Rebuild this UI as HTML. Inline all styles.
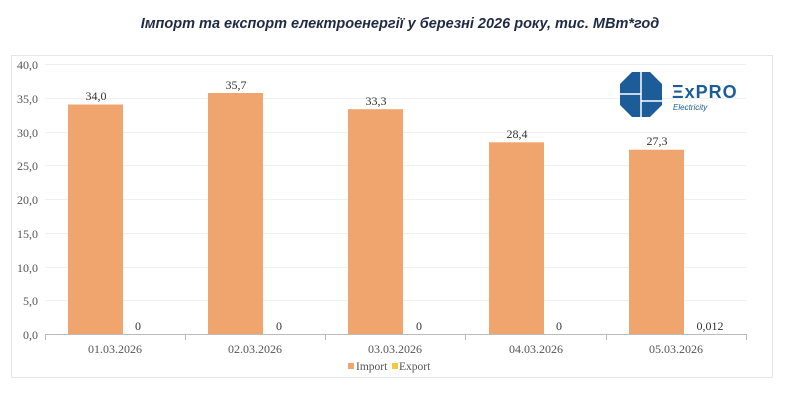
<!DOCTYPE html>
<html><head><meta charset="utf-8"><style>
body{margin:0;background:#fff;width:800px;height:403px;overflow:hidden}
</style></head><body>
<svg width="800" height="403" xmlns="http://www.w3.org/2000/svg" font-family="Liberation Serif, serif">
<text x="400" y="28" text-anchor="middle" font-family="Liberation Sans, sans-serif" font-weight="bold" font-style="italic" font-size="14.5" fill="#1f2a44">Імпорт та експорт електроенергії у березні 2026 року, тис. МВт*год</text>
<rect x="11.5" y="55.5" width="761" height="322" fill="#fff" stroke="#e6e6e6"/>
<g stroke="#f0f0f0" stroke-width="1">
<line x1="45" x2="746" y1="64.5" y2="64.5"/><line x1="45" x2="746" y1="98.5" y2="98.5"/>
<line x1="45" x2="746" y1="132.5" y2="132.5"/><line x1="45" x2="746" y1="165.5" y2="165.5"/>
<line x1="45" x2="746" y1="199.5" y2="199.5"/><line x1="45" x2="746" y1="233.5" y2="233.5"/>
<line x1="45" x2="746" y1="267.5" y2="267.5"/><line x1="45" x2="746" y1="300.5" y2="300.5"/>
</g>
<g font-size="12" fill="#555" text-anchor="end">
<text x="38" y="69">40,0</text><text x="38" y="103">35,0</text><text x="38" y="137">30,0</text>
<text x="38" y="170">25,0</text><text x="38" y="204">20,0</text><text x="38" y="238">15,0</text>
<text x="38" y="272">10,0</text><text x="38" y="305">5,0</text><text x="38" y="339">0,0</text>
</g>
<g fill="#f0a46e">
<rect x="68" y="104.5" width="55" height="229.5"/>
<rect x="208" y="93" width="55" height="241"/>
<rect x="348" y="109.2" width="55" height="224.8"/>
<rect x="489" y="142.3" width="55" height="191.7"/>
<rect x="629" y="149.7" width="55" height="184.3"/>
</g>
<line x1="45" x2="746" y1="334.5" y2="334.5" stroke="#bbb"/>
<g stroke="#bbb"><line x1="45.5" x2="45.5" y1="334" y2="340"/><line x1="185.5" x2="185.5" y1="334" y2="340"/><line x1="325.5" x2="325.5" y1="334" y2="340"/><line x1="465.5" x2="465.5" y1="334" y2="340"/><line x1="606.5" x2="606.5" y1="334" y2="340"/><line x1="746.5" x2="746.5" y1="334" y2="340"/></g>
<g font-size="12" fill="#333" text-anchor="middle">
<text x="96" y="100">34,0</text><text x="236" y="89">35,7</text><text x="376" y="105">33,3</text>
<text x="517" y="138">28,4</text><text x="657" y="145">27,3</text>
<text x="138" y="330">0</text><text x="279" y="330">0</text><text x="419" y="330">0</text><text x="559" y="330">0</text><text x="710" y="330">0,012</text>
</g>
<g font-size="12" fill="#555" text-anchor="middle">
<text x="115" y="353">01.03.2026</text><text x="255" y="353">02.03.2026</text><text x="395" y="353">03.03.2026</text><text x="536" y="353">04.03.2026</text><text x="676" y="353">05.03.2026</text>
</g>
<rect x="348" y="363" width="6" height="6" fill="#f0a46e"/>
<text x="356" y="370" font-size="11.5" fill="#555">Import</text>
<rect x="392" y="363" width="6" height="6" fill="#f5c842"/>
<text x="399" y="370" font-size="11.5" fill="#555">Export</text>
<g fill="#1c5d99">
<polygon points="632,72 650,72 662,84 662,105 650,117 632,117 620,105 620,84"/>
</g>
<g stroke="#fff" stroke-width="1.5"><line x1="641" y1="72" x2="641" y2="117"/><line x1="620" y1="94" x2="641" y2="94"/><line x1="641" y1="101" x2="662" y2="101"/></g>
<text x="672" y="98" font-family="Liberation Sans, sans-serif" font-size="18" font-weight="bold" fill="#1c5d99" letter-spacing="1">ΞxPRO</text>
<text x="673" y="110" font-family="Liberation Sans, sans-serif" font-size="8" font-style="italic" fill="#1c5d99">Electricity</text>
</svg>
</body></html>
